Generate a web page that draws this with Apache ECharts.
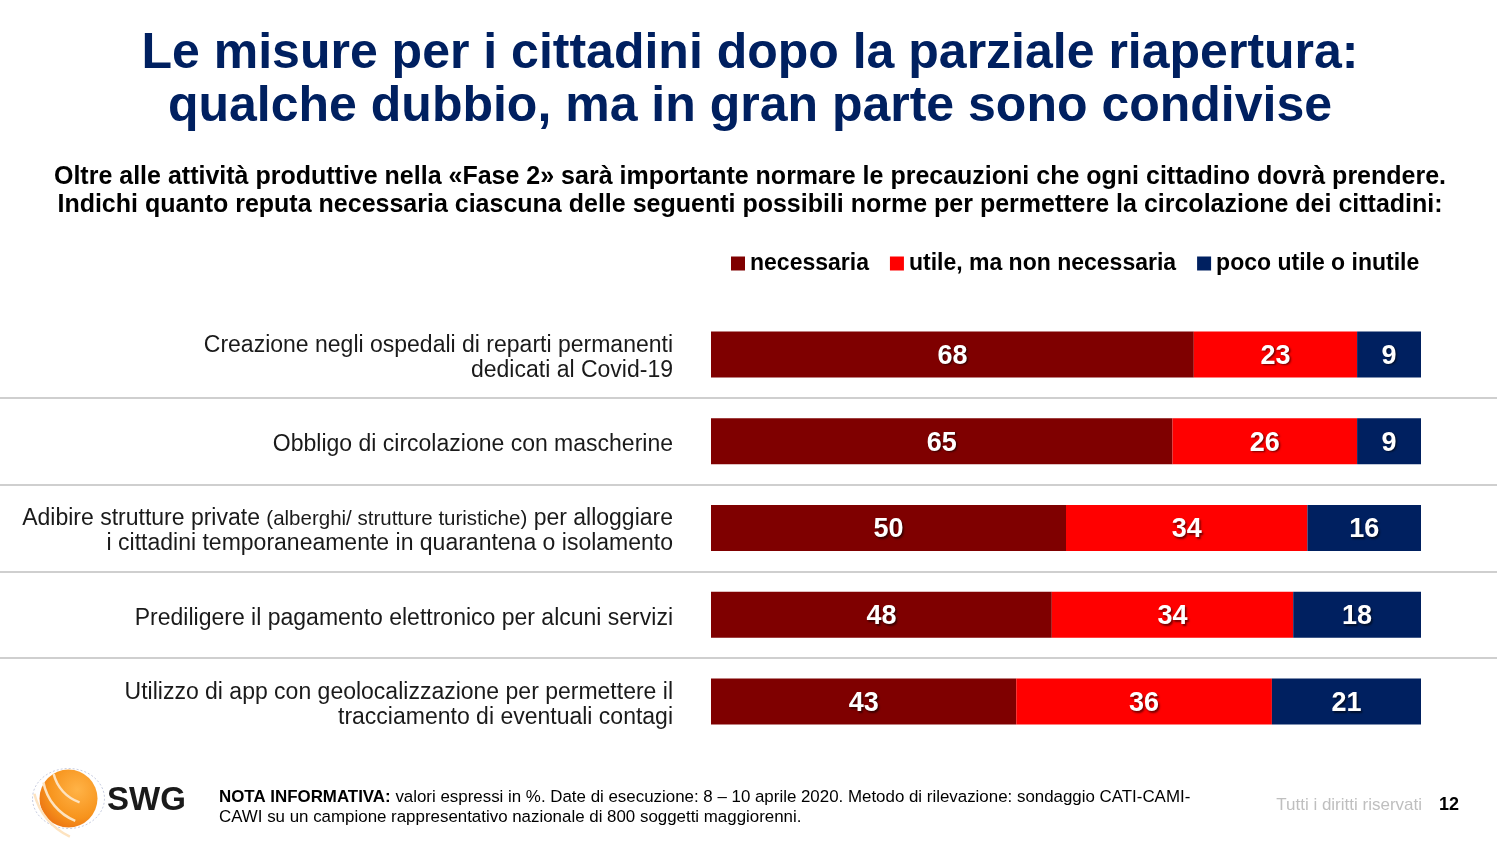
<!DOCTYPE html>
<html>
<head>
<meta charset="utf-8">
<script src="https://cdn.jsdelivr.net/npm/echarts@6/dist/echarts.min.js"></script>
<style>
html,body{margin:0;padding:0;background:#fff;}
#chart{width:1500px;height:844px;}
</style>
</head>
<body>
<div id="chart"></div>
<script>
// ---- data ----
const categories = [
  'Creazione negli ospedali di reparti permanenti\ndedicati al Covid-19',
  'Obbligo di circolazione con mascherine',
  'Adibire strutture private (alberghi/ strutture turistiche) per alloggiare\ni cittadini temporaneamente in quarantena o isolamento',
  'Prediligere il pagamento elettronico per alcuni servizi',
  'Utilizzo di app con geolocalizzazione per permettere il\ntracciamento di eventuali contagi'
];
const seriesNames = ['necessaria', 'utile, ma non necessaria', 'poco utile o inutile'];
const necessaria = [68, 65, 50, 48, 43];
const utile = [23, 26, 34, 34, 36];
const pocoUtile = [9, 9, 16, 18, 21];
const colors = ['#7f0000', '#ff0000', '#002060'];

const titleLines = 'Le misure per i cittadini dopo la parziale riapertura:\nqualche dubbio, ma in gran parte sono condivise';
const subtitleLines = 'Oltre alle attività produttive nella «Fase 2» sarà importante normare le precauzioni che ogni cittadino dovrà prendere.\nIndichi quanto reputa necessaria ciascuna delle seguenti possibili norme per permettere la circolazione dei cittadini:';

const FONT = '"Liberation Sans", Arial, sans-serif';

const chart = echarts.init(document.getElementById('chart'), null, {renderer: 'canvas'});

function makeSeries(name, data, color) {
  return {
    name: name,
    type: 'bar',
    stack: 'total',
    xAxisIndex: 0,
    yAxisIndex: 0,
    barWidth: 46,
    data: data,
    itemStyle: {color: color},
    label: {
      show: true,
      position: 'inside',
      offset: [0, 2],
      color: '#fff',
      fontFamily: FONT,
      fontWeight: 'bold',
      fontSize: 27,
      textShadowColor: 'rgba(0,0,0,0.55)',
      textShadowBlur: 2,
      textShadowOffsetX: 1.5,
      textShadowOffsetY: 1.5
    },
    emphasis: {disabled: true}
  };
}

const option = {
  animation: false,
  backgroundColor: '#ffffff',
  title: [
    {
      text: titleLines,
      left: 'center',
      top: 23,
      textStyle: {fontFamily: FONT, fontSize: 50, fontWeight: 'bold', color: '#002060', lineHeight: 53, align: 'center'}
    },
    {
      text: subtitleLines,
      left: 'center',
      top: 158,
      textStyle: {fontFamily: FONT, fontSize: 25, fontWeight: 'bold', color: '#000', lineHeight: 28, align: 'center'}
    }
  ],
  legend: {
    left: 726,
    top: 247,
    itemWidth: 14,
    itemHeight: 14,
    itemGap: 21,
    icon: 'rect',
    textStyle: {fontFamily: FONT, fontSize: 23, fontWeight: 'bold', color: '#000'},
    data: seriesNames,
    selectedMode: false
  },
  grid: [
    {left: 711, width: 710, top: 311, height: 434, containLabel: false},
    {left: 0, right: 3, top: 311, height: 434, containLabel: false}
  ],
  xAxis: [
    {type: 'value', gridIndex: 0, min: 0, max: 100, show: false},
    {type: 'value', gridIndex: 1, min: 0, max: 100, show: false}
  ],
  yAxis: [
    {
      type: 'category', gridIndex: 0, inverse: true, data: categories,
      axisLine: {show: false}, axisTick: {show: false}, splitLine: {show: false},
      axisLabel: {
        margin: 38,
        align: 'right',
        padding: [7, 0, 0, 0],
        fontFamily: FONT, fontSize: 23, color: '#1a1a1a', lineHeight: 25,
        formatter: function (v) {
          return v.replace('(alberghi/ strutture turistiche)', '{s|(alberghi/ strutture turistiche)}');
        },
        rich: {
          s: {fontFamily: FONT, fontSize: 20.5, color: '#1a1a1a', lineHeight: 25}
        }
      }
    },
    {
      type: 'category', gridIndex: 1, inverse: true, data: categories,
      axisLine: {show: false}, axisTick: {show: false}, axisLabel: {show: false},
      splitLine: {show: true, showMinLine: false, showMaxLine: false, lineStyle: {color: '#bfbfbf', width: 1.5}}
    }
  ],
  series: [
    makeSeries(seriesNames[0], necessaria, colors[0]),
    makeSeries(seriesNames[1], utile, colors[1]),
    makeSeries(seriesNames[2], pocoUtile, colors[2])
  ],
  graphic: [
    // SWG logo
    {
      type: 'group', left: 30, top: 766,
      children: [
        {type: 'ellipse', shape: {cx: 36, cy: 34, rx: 36, ry: 30}, style: {fill: 'none', stroke: '#c8cde0', lineWidth: 1, lineDash: [2, 2]}},
        {type: 'circle', shape: {cx: 36, cy: 34, r: 29},
          style: {fill: new echarts.graphic.RadialGradient(0.65, 0.35, 0.8, [
            {offset: 0, color: '#ffb347'}, {offset: 0.6, color: '#f7941d'}, {offset: 1, color: '#e86a10'}])}},
        {type: 'arc', shape: {cx: 60, cy: 0, r: 40, startAngle: 1.9, endAngle: 2.9}, style: {stroke: '#fde3c0', lineWidth: 2.5, fill: 'none'}},
        {type: 'arc', shape: {cx: 62, cy: 8, r: 52, startAngle: 1.95, endAngle: 2.95}, style: {stroke: '#fde3c0', lineWidth: 2.5, fill: 'none'}},
        {type: 'arc', shape: {cx: 64, cy: 14, r: 64, startAngle: 2.0, endAngle: 2.9}, style: {stroke: '#fde3c0', lineWidth: 2.5, fill: 'none'}}
      ]
    },
    {type: 'text', left: 107, top: 784, style: {text: 'SWG', fontFamily: FONT, fontSize: 33, fontWeight: 'bold', fill: '#1a1a1a'}},
    // footer note
    {
      type: 'text', left: 219, top: 787,
      style: {
        text: '{b|NOTA INFORMATIVA:} valori espressi in %. Date di esecuzione: 8 – 10 aprile 2020. Metodo di rilevazione: sondaggio CATI-CAMI-\nCAWI su un campione rappresentativo nazionale di 800 soggetti maggiorenni.',
        fontFamily: FONT, fontSize: 16.9, fill: '#000', lineHeight: 20,
        rich: {b: {fontFamily: FONT, fontSize: 16.9, fontWeight: 'bold', fill: '#000', lineHeight: 20}}
      }
    },
    {type: 'text', right: 78, top: 797, style: {text: 'Tutti i diritti riservati', fontFamily: FONT, fontSize: 17, fill: '#bfbfbf'}},
    {type: 'text', left: 1439, top: 796, style: {text: '12', fontFamily: FONT, fontSize: 18, fontWeight: 'bold', fill: '#000'}}
  ]
};

chart.setOption(option);
</script>
</body>
</html>
